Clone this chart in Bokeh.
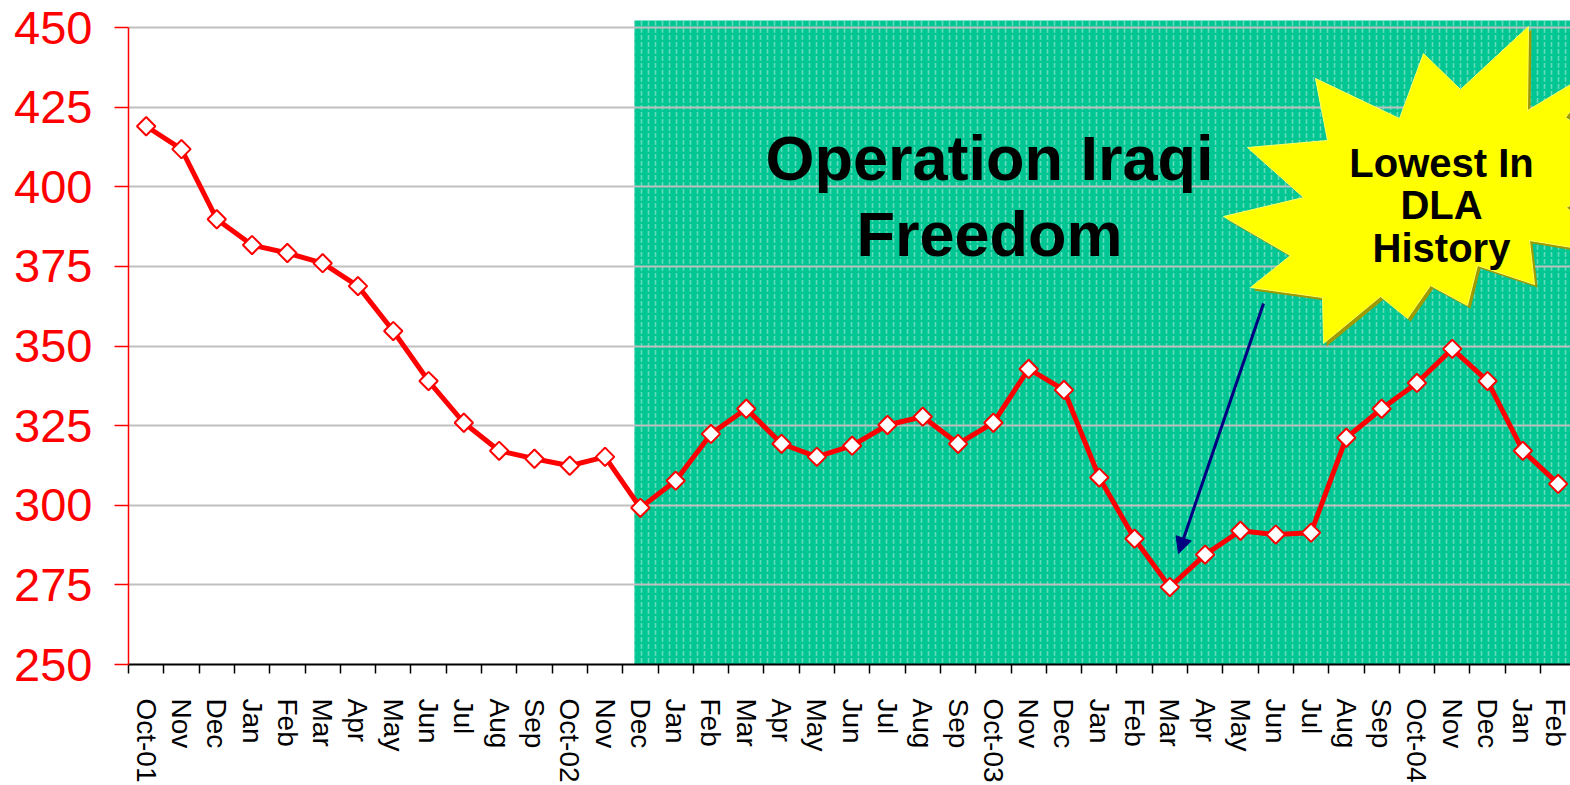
import math
from bokeh.plotting import figure
from bokeh.models import (Range1d, FixedTicker, Label, Arrow, NormalHead, ColumnDataSource)
from bokeh.embed import file_html
from bokeh.resources import INLINE

# ---- data ----
months = ["Oct-01", "Nov", "Dec", "Jan", "Feb", "Mar", "Apr", "May", "Jun", "Jul",
          "Aug", "Sep", "Oct-02", "Nov", "Dec", "Jan", "Feb", "Mar", "Apr", "May",
          "Jun", "Jul", "Aug", "Sep", "Oct-03", "Nov", "Dec", "Jan", "Feb", "Mar",
          "Apr", "May", "Jun", "Jul", "Aug", "Sep", "Oct-04", "Nov", "Dec", "Jan", "Feb"]
values = [419.0, 411.8, 389.8, 381.7, 379.2, 376.0, 368.8, 354.7, 339.0, 325.9,
          317.1, 314.6, 312.4, 315.2, 299.2, 307.7, 322.4, 330.3, 319.3, 315.2,
          318.7, 325.2, 327.8, 319.3, 325.9, 342.8, 336.2, 308.7, 289.5, 274.3,
          284.5, 292.0, 290.8, 291.4, 321.2, 330.3, 338.4, 349.1, 339.0, 317.1, 306.7]
y_ticks = [250, 275, 300, 325, 350, 375, 400, 425, 450]
oif_start_index = 14  # Operation Iraqi Freedom shading begins at Dec-02

idx = list(range(len(months)))

# ---- layout helpers (window pixel -> data) ----
FRAME_LEFT_PX, PX_PER_CAT = 128.0, 35.30
FRAME_BOTTOM_PX, PX_PER_UNIT = 664.0, 3.185


def dx(px):
    return -0.5 + (px - FRAME_LEFT_PX) / PX_PER_CAT


def dy(py):
    return 250 + (FRAME_BOTTOM_PX - py) / PX_PER_UNIT


p = figure(width=1570, height=785, output_backend="svg", toolbar_location=None,
           x_range=Range1d(-0.5, dx(1570)), y_range=Range1d(250, dy(20)),
           min_border_left=128, min_border_top=20, min_border_bottom=121,
           min_border_right=0)
p.outline_line_color = None
p.background_fill_color = "white"

# green shaded period
green = p.quad(left=[oif_start_index - 0.17], right=[dx(1700)], bottom=[250], top=[dy(0)],
               fill_color="#00C693", line_color=None,
               hatch_pattern="vertical_dash", hatch_color="#8FE6CB",
               hatch_scale=7, hatch_weight=1.6, hatch_alpha=0.7)
green.level = "image"

# grid
p.xgrid.grid_line_color = None
p.ygrid.grid_line_color = "#C0C0C0"
p.ygrid.grid_line_width = 2
p.ygrid.ticker = FixedTicker(ticks=y_ticks)
p.ygrid.level = "underlay"

# y axis
ya = p.yaxis[0]
ya.ticker = FixedTicker(ticks=y_ticks)
ya.bounds = (250, 450)
ya.axis_line_color = "red"
ya.axis_line_width = 1.5
ya.major_tick_line_color = "red"
ya.major_tick_line_width = 1.5
ya.major_tick_out = 14
ya.major_tick_in = 0
ya.minor_tick_line_color = None
ya.major_label_text_color = "red"
ya.major_label_text_font = "Liberation Sans"
ya.major_label_text_font_size = "47px"
ya.major_label_standoff = 22

# x axis
xa = p.xaxis[0]
xa.ticker = FixedTicker(ticks=idx, minor_ticks=[i - 0.5 for i in range(len(months) + 1)])
xa.major_label_overrides = {i: m for i, m in enumerate(months)}
xa.axis_line_color = "black"
xa.axis_line_width = 2
xa.major_tick_line_color = None
xa.major_tick_out = 0
xa.major_tick_in = 0
xa.minor_tick_line_color = "black"
xa.minor_tick_line_width = 1.5
xa.minor_tick_out = 9
xa.minor_tick_in = 0
xa.major_label_orientation = -math.pi / 2
xa.major_label_text_font = "Liberation Sans"
xa.major_label_text_font_size = "28px"
xa.major_label_text_color = "black"
xa.major_label_standoff = 25

# starburst
star_px = [(1528, 26), (1527, 110), (1610, 60), (1565, 117), (1640, 165), (1566, 207),
           (1620, 255), (1529, 240), (1534, 284), (1477, 265), (1467, 305), (1430, 285),
           (1407, 318), (1380, 296), (1323, 343), (1322, 297), (1250, 287), (1290, 255),
           (1223, 216), (1303, 197), (1247, 147), (1327, 140), (1315, 78), (1399, 118),
           (1423, 53), (1460, 89)]
p.patch([dx(a + 3) for a, b in star_px], [dy(b + 3) for a, b in star_px],
        fill_color="#9E9A00", line_color=None)
p.patch([dx(a) for a, b in star_px], [dy(b) for a, b in star_px],
        fill_color="#FFFF00", line_color="#FFFF66", line_width=1)

# data line
src = ColumnDataSource(dict(x=idx, y=values))
p.line("x", "y", source=src, line_color="red", line_width=5)
p.scatter("x", "y", source=src, marker="square", angle=math.pi / 4, size=13,
          fill_color="white", line_color="red", line_width=2)

# arrow
p.add_layout(Arrow(x_start=dx(1263), y_start=dy(303), x_end=dx(1178), y_end=dy(553),
                   line_color="#000080", line_width=3,
                   end=NormalHead(size=16, fill_color="#000080", line_color="#000080")))

# texts
for txt, px, py, fs in [("Operation Iraqi", 989, 157, "63px"), ("Freedom", 989, 233, "63px"),
                        ("Lowest In", 1441, 162, "40px"), ("DLA", 1441, 204, "40px"),
                        ("History", 1441, 247, "40px")]:
    p.add_layout(Label(x=dx(px), y=dy(py), text=txt, text_align="center",
                       text_baseline="alphabetic", text_font="Liberation Sans",
                       text_font_style="bold", text_font_size=fs, text_color="black"))

open("out.html", "w").write(file_html(p, INLINE))
